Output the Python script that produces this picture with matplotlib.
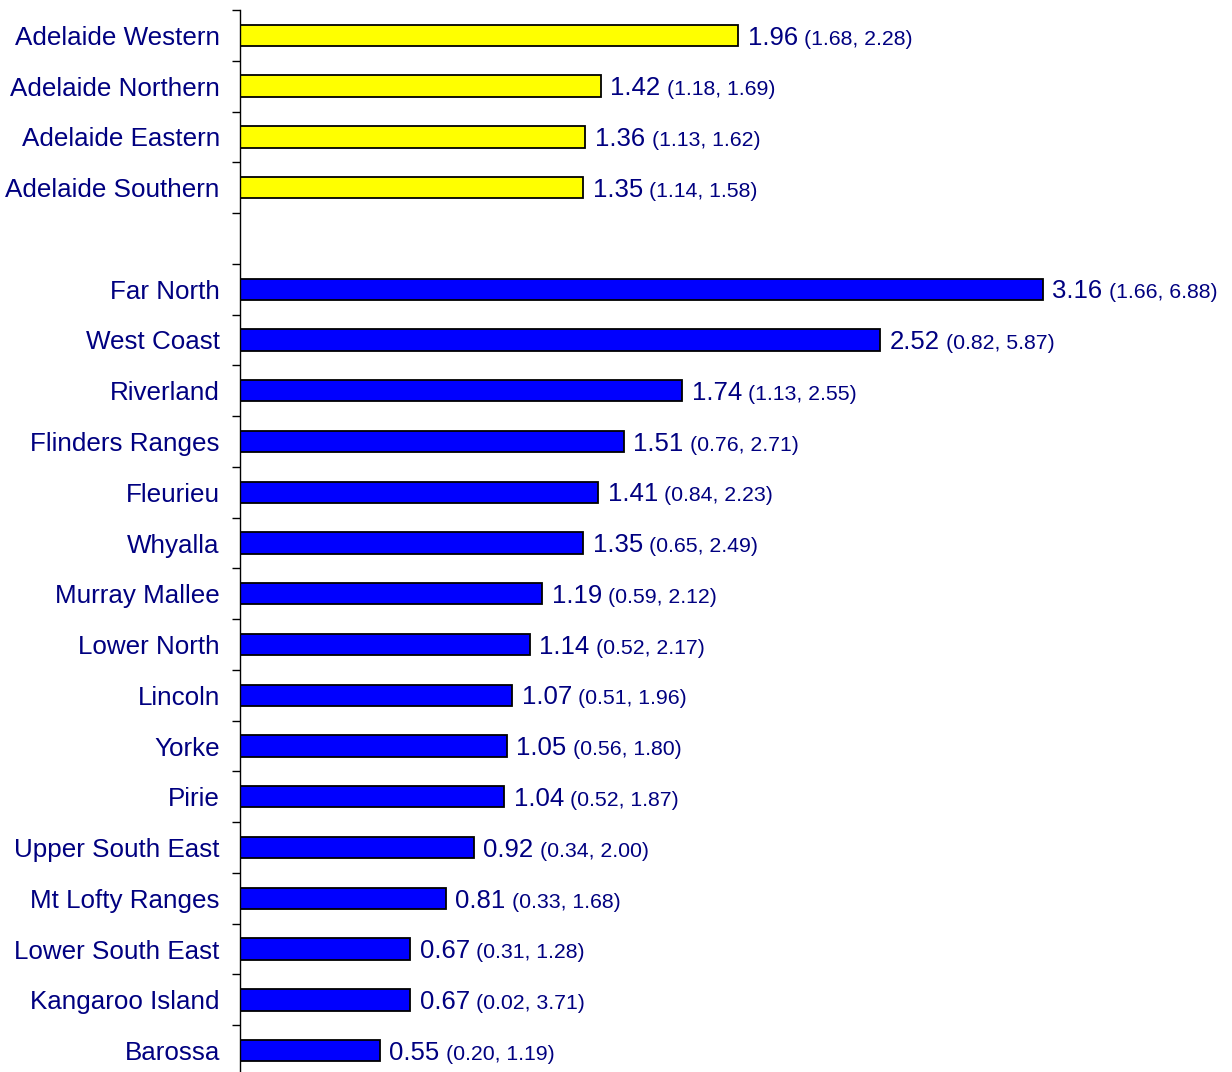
import matplotlib.pyplot as plt
import numpy as np

plt.rcParams['font.family'] = ['Liberation Sans', 'DejaVu Sans']

NAVY = '#000080'

# rows from top to bottom; '' is the blank spacer row
regions = ['Adelaide Western', 'Adelaide Northern', 'Adelaide Eastern',
           'Adelaide Southern', '',
           'Far North', 'West Coast', 'Riverland', 'Flinders Ranges',
           'Fleurieu', 'Whyalla', 'Murray Mallee', 'Lower North', 'Lincoln',
           'Yorke', 'Pirie', 'Upper South East', 'Mt Lofty Ranges',
           'Lower South East', 'Kangaroo Island', 'Barossa']
ratios = [1.96, 1.42, 1.36, 1.35, None,
          3.16, 2.52, 1.74, 1.51, 1.41, 1.35, 1.19, 1.14, 1.07, 1.05, 1.04,
          0.92, 0.81, 0.67, 0.67, 0.55]
ci_low = [1.68, 1.18, 1.13, 1.14, None,
          1.66, 0.82, 1.13, 0.76, 0.84, 0.65, 0.59, 0.52, 0.51, 0.56, 0.52,
          0.34, 0.33, 0.31, 0.02, 0.20]
ci_high = [2.28, 1.69, 1.62, 1.58, None,
           6.88, 5.87, 2.55, 2.71, 2.23, 2.49, 2.12, 2.17, 1.96, 1.80, 1.87,
           2.00, 1.68, 1.28, 3.71, 1.19]
is_metro = [True] * 4 + [False] * 17


def main():
  fig = plt.figure(figsize=(12.32, 10.72), dpi=100)
  ax = fig.add_axes([240 / 1232, -4 / 1072, 1 - 240 / 1232, 1066 / 1072])

  n = len(regions)
  for i in range(n):
    if ratios[i] is None:
      continue
    color = '#FFFF00' if is_metro[i] else '#0000FF'
    ax.barh(i, ratios[i], height=0.42, color=color, edgecolor='black',
            linewidth=1.3)
    val = ax.annotate('%.2f' % ratios[i], xy=(ratios[i], i),
                      xytext=(7, -6.6), textcoords='offset points',
                      ha='left', va='baseline', fontsize=18.5, color=NAVY)
    ax.annotate('(%.2f, %.2f)' % (ci_low[i], ci_high[i]),
                xy=(1, i), xycoords=(val, 'data'),
                xytext=(4.5, -6.6), textcoords='offset points',
                ha='left', va='baseline', fontsize=15.3, color=NAVY)

  ax.set_xlim(0, (1232 - 240) / 254.0)
  ax.set_ylim(n - 0.5, -0.5)

  ax.set_yticks(np.arange(n))
  ax.set_yticklabels(regions, fontsize=18.7, color=NAVY)
  ax.set_yticks(np.arange(n + 1) - 0.5, minor=True)
  ax.tick_params(axis='y', which='major', length=0, pad=14.5)
  ax.tick_params(axis='y', which='minor', length=6, width=1, color='black')
  ax.set_xticks([])

  for side in ['top', 'right', 'bottom']:
    ax.spines[side].set_visible(False)
  ax.spines['left'].set_linewidth(1)
  ax.patch.set_visible(False)

  fig.savefig('out.png', dpi=100, facecolor='white')


if __name__ == '__main__':
  main()
